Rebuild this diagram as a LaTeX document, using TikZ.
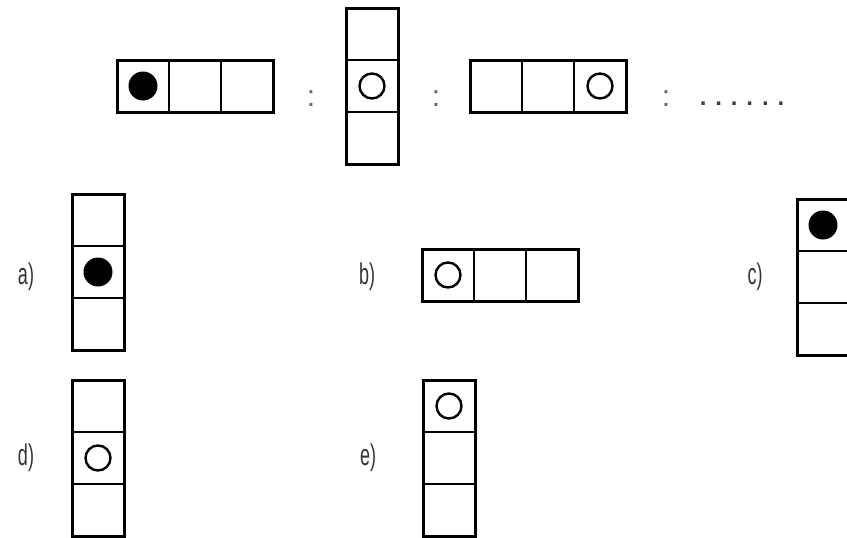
\documentclass[tikz,border=0pt]{standalone}
\usepackage{fontspec}
\setsansfont{Liberation Sans}
\usetikzlibrary{positioning}

\begin{document}
\begin{tikzpicture}[
  x=1pt,y=-1pt,
  cell/.style={draw,minimum size=52pt,inner sep=0pt,outer sep=0pt,line width=1.6pt},
  frame/.style={line width=3pt},
  dot/.style={circle,fill=black,minimum size=29pt,inner sep=0pt},
  ring/.style={circle,draw,line width=2.4pt,minimum size=25pt,inner sep=0pt},
  lab/.style={font=\sffamily\fontsize{30}{30}\selectfont,xscale=0.6,text=black!80},
  sep/.style={font=\sffamily\fontsize{30}{30}\selectfont,text=black!60},
]
\useasboundingbox (0,0) rectangle (847,538);

% top row
\node[cell] (p1) at (143,86) {};
\node[cell,right=0pt of p1] (p2) {};
\node[cell,right=0pt of p2] (p3) {};
\draw[frame] (p1.north west) rectangle (p3.south east);
\node[dot] (p1m) at (p1) {};
\node[sep] (s1) at (311,99) {:};

\node[cell] (q1) at (372,34) {};
\node[cell,below=0pt of q1] (q2) {};
\node[cell,below=0pt of q2] (q3) {};
\draw[frame] (q1.north west) rectangle (q3.south east);
\node[ring] (q2m) at (q2) {};
\node[sep] (s2) at (436,99) {:};

\node[cell] (r1) at (496,86) {};
\node[cell,right=0pt of r1] (r2) {};
\node[cell,right=0pt of r2] (r3) {};
\draw[frame] (r1.north west) rectangle (r3.south east);
\node[ring] (r3m) at (r3) {};
\node[sep] (s3) at (666,99) {:};
\node[sep,font=\sffamily\bfseries\fontsize{24}{24}\selectfont,text=black!75] (etc) at (742,104) {. . . . . .};

% answers
\node[lab] (la) at (26,277) {a)};
\node[cell] (a1) at (98,220) {};
\node[cell,below=0pt of a1] (a2) {};
\node[cell,below=0pt of a2] (a3) {};
\draw[frame] (a1.north west) rectangle (a3.south east);
\node[dot] (a2m) at (a2) {};

\node[lab] (lb) at (367,277) {b)};
\node[cell] (b1) at (448,275) {};
\node[cell,right=0pt of b1] (b2) {};
\node[cell,right=0pt of b2] (b3) {};
\draw[frame] (b1.north west) rectangle (b3.south east);
\node[ring] (b1m) at (b1) {};

\node[lab] (lc) at (755,277) {c)};
\node[cell] (c1) at (823,225) {};
\node[cell,below=0pt of c1] (c2) {};
\node[cell,below=0pt of c2] (c3) {};
\draw[frame] (c1.north west) rectangle (c3.south east);
\node[dot] (c1m) at (c1) {};

\node[lab] (ld) at (26,458) {d)};
\node[cell] (d1) at (98,406) {};
\node[cell,below=0pt of d1] (d2) {};
\node[cell,below=0pt of d2] (d3) {};
\draw[frame] (d1.north west) rectangle (d3.south east);
\node[ring] (d2m) at (d2) {};

\node[lab] (le) at (368,458) {e)};
\node[cell] (e1) at (449,406) {};
\node[cell,below=0pt of e1] (e2) {};
\node[cell,below=0pt of e2] (e3) {};
\draw[frame] (e1.north west) rectangle (e3.south east);
\node[ring] (e1m) at (e1) {};
\end{tikzpicture}
\end{document}
